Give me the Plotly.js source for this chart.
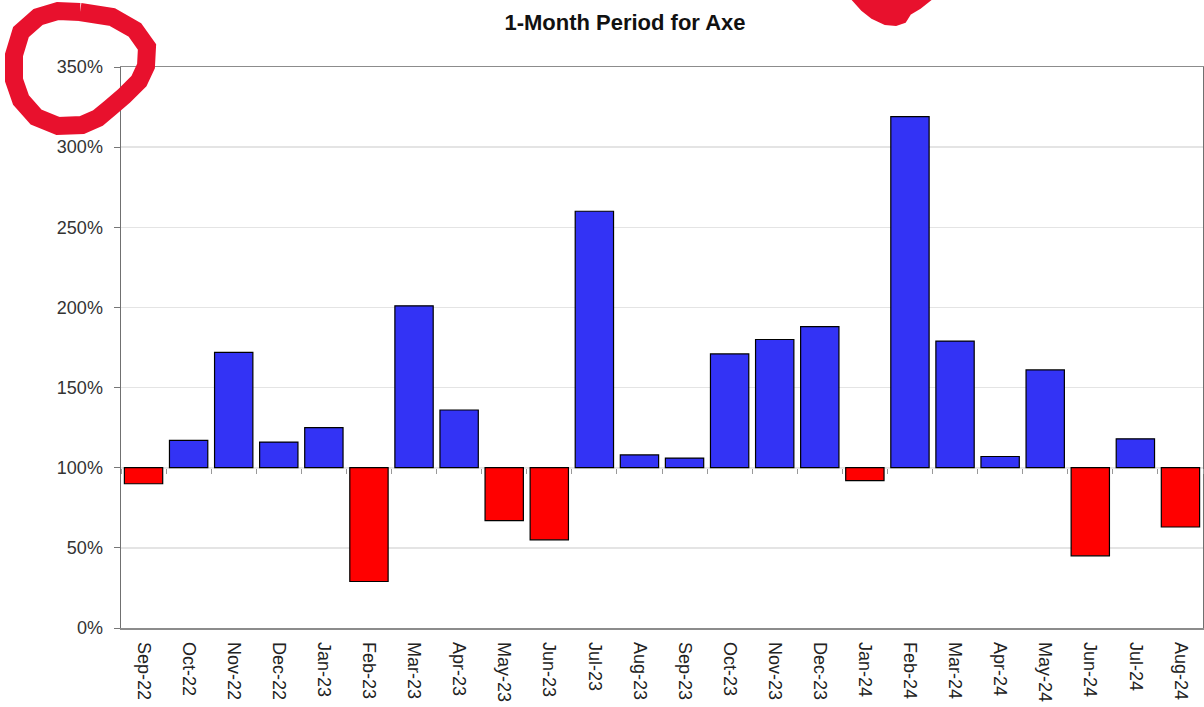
<!DOCTYPE html>
<html>
<head>
<meta charset="utf-8">
<script src="https://cdn.plot.ly/plotly-3.0.1.min.js"></script>
<style>html,body{margin:0;padding:0;background:#fff;}#chart{width:1204px;height:707px;}</style>
</head>
<body>
<div id="chart"></div>
<script>
const months = ["Sep-22","Oct-22","Nov-22","Dec-22","Jan-23","Feb-23","Mar-23","Apr-23","May-23","Jun-23","Jul-23","Aug-23","Sep-23","Oct-23","Nov-23","Dec-23","Jan-24","Feb-24","Mar-24","Apr-24","May-24","Jun-24","Jul-24","Aug-24"];
const values = [90, 117, 172, 116, 125, 29, 201, 136, 67, 55, 260, 108, 106, 171, 180, 188, 92, 319, 179, 107, 161, 45, 118, 63];
const baseline = 100;
const yTicks = [0, 50, 100, 150, 200, 250, 300, 350];
const titleText = "1-Month Period for Axe";

const upColor = "#3333f5";
const downColor = "#ff0000";

// plot area in pixels
const W = 1204, H = 707;
const mL = 121, mR = 1, mT = 67, mB = 79;
const pw = W - mL - mR, ph = H - mT - mB;
const px = v => (v - mL) / pw;
const py = v => (H - mB - v) / ph;

const trace = {
  type: "bar",
  x: months,
  y: values.map(v => v - baseline),
  base: values.map(() => baseline),
  marker: {
    color: values.map(v => v >= baseline ? upColor : downColor),
    line: {color: "#000", width: 1.2}
  },
  hoverinfo: "skip"
};

const boundaries = months.map((_, i) => i - 0.5).concat([months.length - 0.5]);

const layout = {
  width: W, height: H,
  margin: {l: mL, r: mR, t: mT, b: mB, pad: 0},
  paper_bgcolor: "#fff",
  plot_bgcolor: "#fff",
  showlegend: false,
  bargap: 0.15,
  title: {
    text: "<b>" + titleText + "</b>",
    x: 625 / W, xanchor: "center", xref: "container",
    y: 1 - 22 / H, yanchor: "middle", yref: "container",
    font: {family: "Liberation Sans, Arial, sans-serif", size: 22, color: "#111"}
  },
  font: {family: "Liberation Sans, Arial, sans-serif", color: "#333"},
  xaxis: {
    type: "category",
    range: [-0.5, months.length - 0.5],
    tickangle: 90,
    tickfont: {size: 18, color: "#222"},
    ticks: "outside", ticklen: 9, tickcolor: "rgba(0,0,0,0)",
    showgrid: false,
    showline: true, linecolor: "#8c8c8c", linewidth: 1.5,
    mirror: true,
    zeroline: false,
    fixedrange: true
  },
  xaxis2: {
    type: "linear",
    overlaying: "x",
    anchor: "free",
    position: baseline / 350,
    side: "bottom",
    range: [-0.5, months.length - 0.5],
    tickmode: "array",
    tickvals: boundaries,
    showticklabels: false,
    ticks: "outside", ticklen: 5, tickcolor: "#999", tickwidth: 1,
    showline: false,
    showgrid: false,
    zeroline: false
  },
  yaxis: {
    range: [0, 350],
    tickmode: "array",
    tickvals: yTicks,
    ticktext: yTicks.map(t => t + "%"),
    tickfont: {size: 18, color: "#333"},
    ticks: "outside", ticklen: 6, tickcolor: "#777", tickwidth: 1,
    ticklabelstandoff: 7,
    showgrid: true, gridcolor: "#e4e4e4", gridwidth: 1.5,
    showline: true, linecolor: "#707070", linewidth: 1.5,
    mirror: true,
    zeroline: false,
    fixedrange: true
  },
  shapes: [
    // baseline axis at 100%
    {type: "line", xref: "paper", yref: "y", x0: 0, x1: 1, y0: baseline, y1: baseline,
     line: {color: "#9a9a9a", width: 1}, layer: "below"},
    // hand-drawn red circle around the 350% label
    {type: "path", xref: "paper", yref: "paper",
     path: (() => {
       const pts = [[80,12],[112,17],[135,30],[147,47],[146,66],[139,81],[124,96],[110,108],[98,118],[82,125],[58,126],[36,117],[21,100],[14,80],[14,55],[21,32],[38,17],[58,11],[80,12]];
       return "M " + pts.map(p => px(p[0]) + "," + py(p[1])).join(" L ");
     })(),
     line: {color: "#e8112d", width: 18}, layer: "above"},
    // red blob at top
    {type: "path", xref: "paper", yref: "paper",
     path: (() => {
       const pts = [[853,0],[930,0],[920,8],[910,14],[905,22],[896,25],[885,24],[872,18],[862,10],[853,0]];
       return "M " + pts.map(p => px(p[0]) + "," + py(p[1])).join(" L ") + " Z";
     })(),
     fillcolor: "#e8112d", line: {color: "#e8112d", width: 2}, layer: "above"}
  ]
};

const ticksTrace = {type: "scatter", x: [], y: [], xaxis: "x2", yaxis: "y", hoverinfo: "skip"};

Plotly.newPlot("chart", [trace, ticksTrace], layout, {displayModeBar: false, staticPlot: true});
</script>
</body>
</html>
